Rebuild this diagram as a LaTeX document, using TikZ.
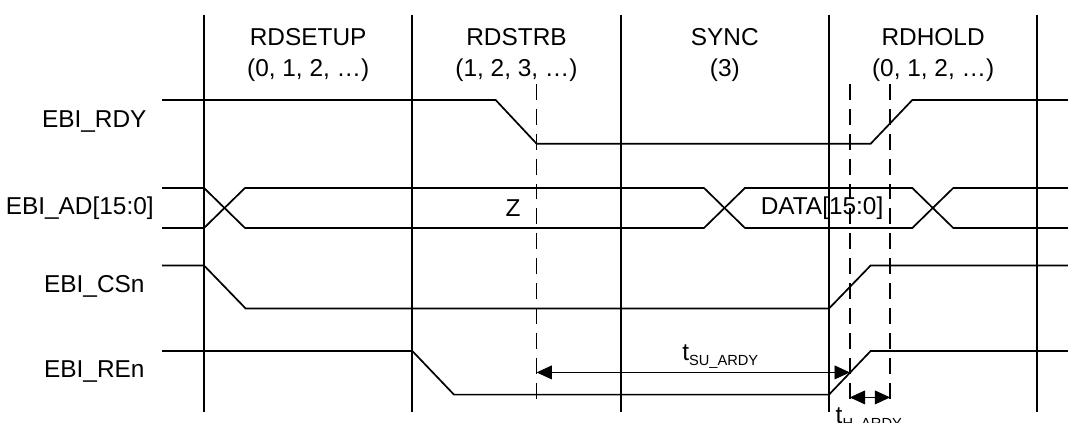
\documentclass[tikz,border=0pt]{standalone}
\usepackage{fontspec}
\setmainfont{Liberation Sans}
\usetikzlibrary{arrows.meta,positioning}

\newcommand{\subtxt}[1]{\raisebox{-2pt}{\fontsize{6}{7}\selectfont #1}}

\tikzset{
    wave/.style={line width=0.7pt},
    phase/.style={line width=0.7pt},
    marker/.style={line width=0.7pt, dash pattern=on 6.5pt off 3.7pt},
    dim/.style={line width=0.35pt, >={Triangle[length=2.2mm,width=2mm]}, <->},
    txt/.style={inner sep=0pt, font=\fontsize{10}{12.7}\selectfont}
}

\begin{document}
\begin{tikzpicture}
    \useasboundingbox (-2.938,0) rectangle (12.442,-6.091);

    % phase borders
    \foreach \x in {0,3,6,9,12} {
        \draw[phase] (\x,-0.22) -- (\x,-5.93);
    }

    % phase names
    \node[txt, align=center] (setup) at (1.5,-0.785) {RDSETUP\\(0, 1, 2, …)};
    \node[txt, align=center] (strb)  at (4.5,-0.785) {RDSTRB\\(1, 2, 3, …)};
    \node[txt, align=center] (sync)  at (7.5,-0.785) {SYNC\\(3)};
    \node[txt, align=center] (hold)  at (10.5,-0.785) {RDHOLD\\(0, 1, 2, …)};

    % signal names
    \node[txt] (rdyname) at (-1.58,-1.757) {EBI\_RDY};
    \node[txt] (adname)  at (-1.79,-2.995) {EBI\_AD[15:0]};
    \node[txt] (csname)  at (-1.58,-4.126) {EBI\_CSn};
    \node[txt] (rename)  at (-1.58,-5.35)  {EBI\_REn};

    % EBI_RDY
    \draw[wave] (-0.605,-1.44) -- (4.2,-1.44) -- (4.79,-2.07) -- (9.6,-2.07)
        -- (10.2,-1.44) -- (12.442,-1.44);

    % EBI_AD (bus)
    \draw[wave] (-0.605,-2.707) -- (0,-2.707) -- (0.59,-3.283) -- (7.2,-3.283)
        -- (7.79,-2.707) -- (10.2,-2.707) -- (10.79,-3.283) -- (12.442,-3.283);
    \draw[wave] (-0.605,-3.283) -- (0,-3.283) -- (0.59,-2.707) -- (7.2,-2.707)
        -- (7.79,-3.283) -- (10.2,-3.283) -- (10.79,-2.707) -- (12.442,-2.707);
    \node[txt] (hiz)  at (4.45,-2.995) {Z};
    \node[txt] (data) at (8.9,-2.995)  {DATA[15:0]};

    % EBI_CSn
    \draw[wave] (-0.605,-3.823) -- (0,-3.823) -- (0.6,-4.443) -- (9,-4.443)
        -- (9.6,-3.823) -- (12.442,-3.823);

    % EBI_REn
    \draw[wave] (-0.605,-5.055) -- (3,-5.055) -- (3.6,-5.683) -- (9,-5.683)
        -- (9.6,-5.055) -- (12.442,-5.055);

    % timing markers
    \foreach \x/\m in {4.79/A, 9.3/B, 9.88/C} {
        \draw[marker] (\x,-1.21) -- (\x,-5.87);
        \coordinate (su\m) at (\x,-5.363);
        \coordinate (h\m)  at (\x,-5.723);
    }

    % setup and hold times
    \draw[dim] (suA) -- (suB);
    \node[txt, anchor=base west] (tsu) at (6.88,-5.194) {t\subtxt{SU\_ARDY}};
    \draw[dim] (hB) -- (hC);
    \node[txt, anchor=base west] (th) at (9.09,-6.1) {t\subtxt{H\_ARDY}};
\end{tikzpicture}
\end{document}
